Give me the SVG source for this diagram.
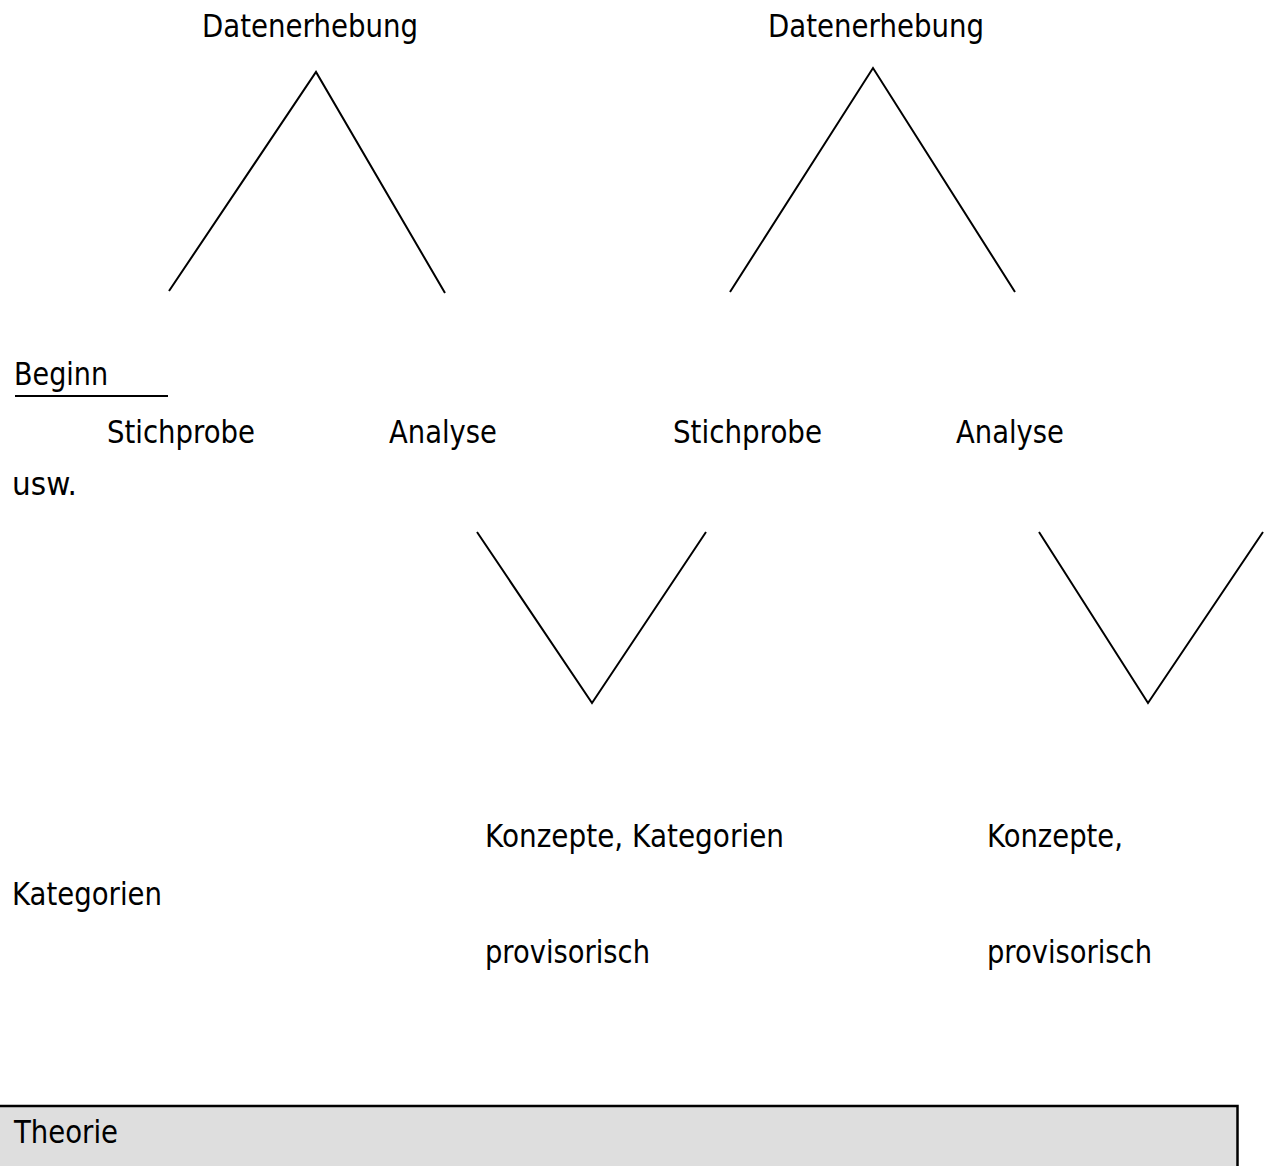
<svg xmlns="http://www.w3.org/2000/svg" width="1268" height="1166" viewBox="0 0 1268 1166">
<style>
text{font-family:"DejaVu Sans","Liberation Sans",sans-serif;font-size:32.5px;fill:#000}
.ln{stroke:#000;stroke-width:2;fill:none}
</style>
<rect width="1268" height="1166" fill="#fff"/>
<g id="connectors">
<polyline class="ln" points="169,291 316,72 445,293"/>
<polyline class="ln" points="730,292 873,68 1015,292"/>
<polyline class="ln" points="477,532 592,703 706,532"/>
<polyline class="ln" points="1039,532 1148,703 1263,532"/>
<line class="ln" x1="15" y1="396" x2="168" y2="396" stroke-width="2.5"/>
</g>
<g id="datenerhebung1"><text x="202" y="37" textLength="216" lengthAdjust="spacingAndGlyphs">Datenerhebung</text></g>
<g id="datenerhebung2"><text x="768" y="37" textLength="216" lengthAdjust="spacingAndGlyphs">Datenerhebung</text></g>
<g id="beginn"><text x="14" y="385" textLength="94" lengthAdjust="spacingAndGlyphs">Beginn</text></g>
<g id="stichprobe1"><text x="107" y="443" textLength="148" lengthAdjust="spacingAndGlyphs">Stichprobe</text></g>
<g id="analyse1"><text x="389" y="443" textLength="108" lengthAdjust="spacingAndGlyphs">Analyse</text></g>
<g id="stichprobe2"><text x="673" y="443" textLength="149" lengthAdjust="spacingAndGlyphs">Stichprobe</text></g>
<g id="analyse2"><text x="956" y="443" textLength="108" lengthAdjust="spacingAndGlyphs">Analyse</text></g>
<g id="usw"><text x="12" y="495" textLength="65" lengthAdjust="spacingAndGlyphs">usw.</text></g>
<g id="konzepte1"><text x="485" y="847" textLength="299" lengthAdjust="spacingAndGlyphs">Konzepte, Kategorien</text></g>
<g id="konzepte2"><text x="987" y="847" textLength="136" lengthAdjust="spacingAndGlyphs">Konzepte,</text></g>
<g id="kategorien"><text x="12" y="905" textLength="150" lengthAdjust="spacingAndGlyphs">Kategorien</text></g>
<g id="provisorisch1"><text x="485" y="963" textLength="165" lengthAdjust="spacingAndGlyphs">provisorisch</text></g>
<g id="provisorisch2"><text x="987" y="963" textLength="165" lengthAdjust="spacingAndGlyphs">provisorisch</text></g>
<g id="theorie">
<rect x="-3" y="1106" width="1240.5" height="70" fill="#dedede" stroke="#000" stroke-width="2.5"/>
<text x="14" y="1143" textLength="104" lengthAdjust="spacingAndGlyphs">Theorie</text>
</g>
</svg>
